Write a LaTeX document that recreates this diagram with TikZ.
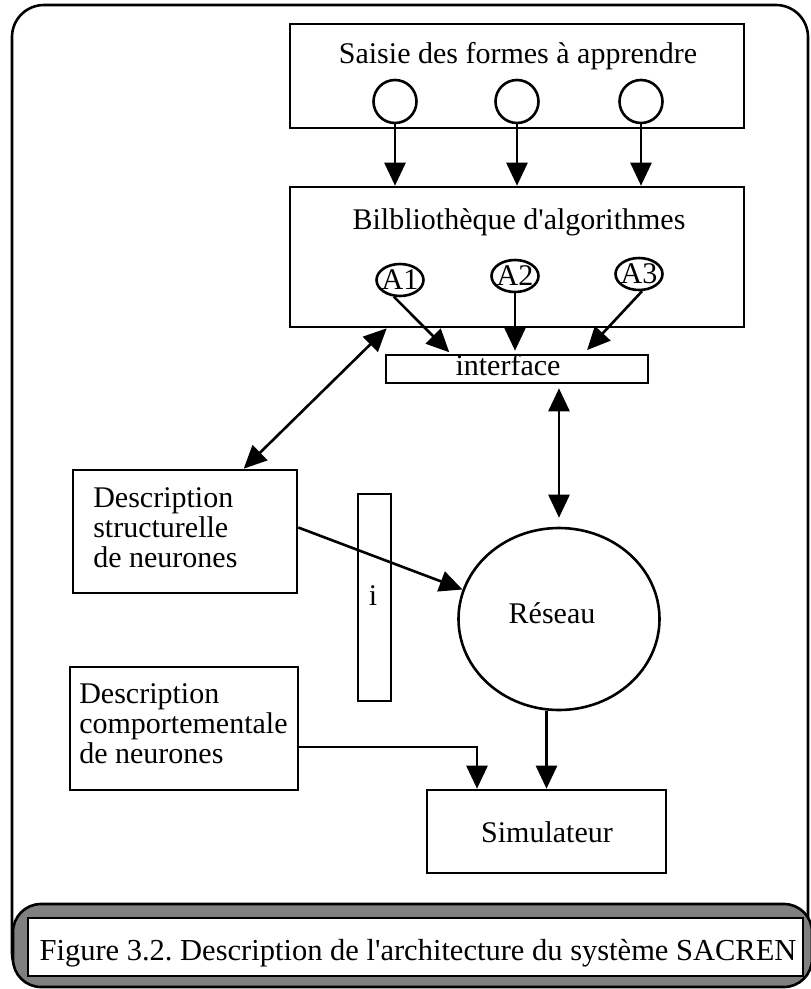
\documentclass[tikz,border=0pt]{standalone}
\usepackage{fontspec}
\setmainfont{Liberation Serif}[Ligatures=TeXOff]
\usetikzlibrary{arrows.meta,calc,shapes.geometric}

\definecolor{capgray}{RGB}{128,128,128}
\frenchspacing

\begin{document}
\begin{tikzpicture}[x=1pt,y=-1pt,
  line width=2.6pt,
  txt/.style={font=\fontsize{30}{30}\selectfont, inner sep=0pt},
  box/.style={draw, rectangle, inner sep=0pt},
  port/.style={draw, circle, minimum size=43pt, inner sep=0pt},
  algo/.style={draw, ellipse, minimum width=47pt, minimum height=32pt, inner sep=0pt},
  arr/.style={-{Triangle[length=23pt,width=21pt]}},
  darr/.style={{Triangle[length=23pt,width=21pt]}-{Triangle[length=23pt,width=21pt]}},
]
\useasboundingbox (0,0) rectangle (811,989);

% outer frame
\draw[rounded corners=32pt] (12,5) rectangle (808,985);

% input box with its three ports
\node[box, minimum width=454pt, minimum height=104pt] (saisie) at (517,76) {};
\node[txt, anchor=base] (saisietxt) at (518,63) {Saisie des formes à apprendre};
\node[port] (p1) at (395,101.5) {};
\node[port] (p2) at (517,101.5) {};
\node[port] (p3) at (641,101.5) {};

% algorithm library
\node[box, minimum width=454pt, minimum height=140pt] (bib) at (517,257) {};
\node[txt, anchor=base] (bibtxt) at (519,229) {Bilbliothèque d'algorithmes};
\node[algo, label={[txt,name=a1t]center:A1}] (a1) at (400,280) {};
\node[algo, label={[txt,name=a2t]center:A2}] (a2) at (515,276) {};
\node[algo, label={[txt,name=a3t]center:A3}] (a3) at (639,274) {};

% interface strip
\node[box, minimum width=262pt, minimum height=28pt] (iface) at (517,369) {};
\node[txt, anchor=base] (ifacetxt) at (508,375) {interface};

% structural description
\node[box, minimum width=224pt, minimum height=123pt] (dstruct) at (185,531.5) {};
\node[txt, anchor=base west] (ds1) at (92,507) {Description};
\node[txt, anchor=base west] (ds2) at (92,537) {structurelle};
\node[txt, anchor=base west] (ds3) at (92,567) {de neurones};

% narrow bar
\node[box, minimum width=33pt, minimum height=207pt] (bar) at (374.5,597.5) {};
\node[txt, anchor=base] (bartxt) at (373,605) {i};

% network
\node[draw, ellipse, minimum width=201pt, minimum height=182pt, inner sep=0pt] (reseau) at (559,619) {};
\node[txt, anchor=base] (reseautxt) at (552,623) {Réseau};

% behavioural description
\node[box, minimum width=228pt, minimum height=123pt] (dcomp) at (184,728.5) {};
\node[txt, anchor=base west] (dc1) at (78,703) {Description};
\node[txt, anchor=base west] (dc2) at (78,733) {comportementale};
\node[txt, anchor=base west] (dc3) at (78,763) {de neurones};

% simulator
\node[box, minimum width=239pt, minimum height=83pt] (sim) at (546.5,831.5) {};
\node[txt, anchor=base] (simtxt) at (547,842) {Simulateur};

% connectors
\foreach \p in {p1,p2,p3}
  \draw[arr] (\p.south) -- (\p.south |- bib.north);

\coordinate (t1) at ($(iface.north west)+(66,0)$);
\coordinate (t3) at ($(iface.north west)+(199,0)$);
\draw[arr, shorten >=2pt] (a1.-110) -- (t1);
\draw[arr, shorten >=3pt] (a2.south) -- (a2.south |- iface.north);
\draw[arr, shorten >=5pt] (a3.-80) -- (t3);

\coordinate (bl) at ($(bib.south west)+(98,0)$);
\coordinate (dl) at ($(dstruct.north west)+(172,0)$);
\draw[darr] (bl) -- (dl);

\draw[darr, shorten <=4pt, shorten >=9pt] (reseau.north |- iface.south) -- (reseau.north);
\draw[arr] ($(dstruct.east)+(0,-4)$) -- (reseau.163);
\draw[arr] (reseau.south -| sim.north) -- (sim.north);

\coordinate (kb) at (477,747);
\draw[arr] (dcomp.east |- kb) -- (kb) -- (kb |- sim.north);

% caption band
\draw[fill=capgray, rounded corners=28pt] (13,904) rectangle (812,987);
\node[box, fill=white, minimum width=775pt, minimum height=58pt] (capbox) at (415.5,947) {};
\node[txt, font=\fontsize{30.5}{30}\selectfont, anchor=base] (captxt) at (418,960) {Figure 3.2. Description de l'architecture du système SACREN};
\end{tikzpicture}
\end{document}
